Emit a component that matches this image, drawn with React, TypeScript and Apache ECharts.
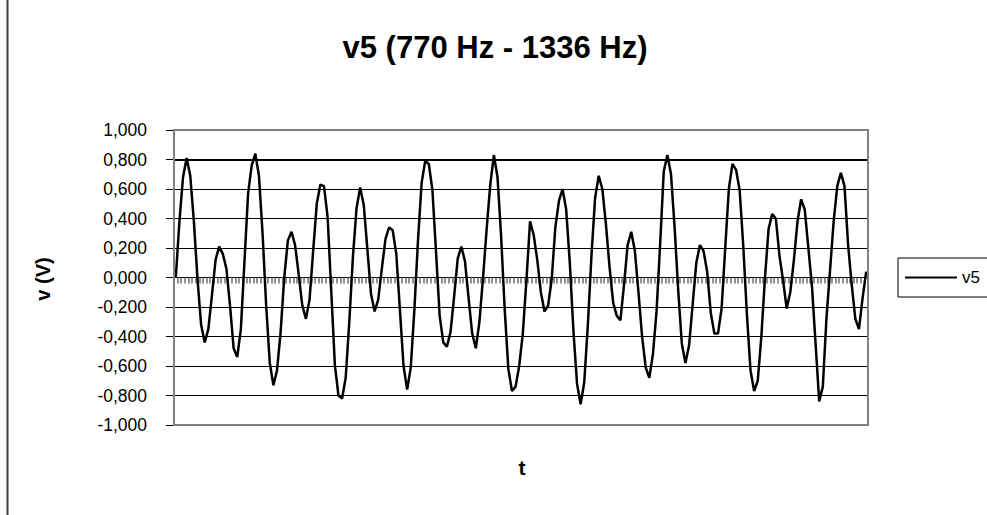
import React, { useEffect, useRef } from "react";
import * as echarts from "echarts";

const TITLE = "v5 (770 Hz - 1336 Hz)";
const X_NAME = "t";
const Y_NAME = "v (V)";
const SERIES_NAME = "v5";

const V5 = [
  0.0, 0.38, 0.68, 0.81, 0.69, 0.38, -0.01, -0.32, -0.44, -0.35,
  -0.12, 0.12, 0.21, 0.16, 0.06, -0.19, -0.48, -0.54, -0.35, 0.11,
  0.57, 0.76, 0.84, 0.69, 0.3, -0.19, -0.58, -0.73, -0.63, -0.37,
  0.0, 0.25, 0.31, 0.22, 0.02, -0.19, -0.28, -0.15, 0.18, 0.5,
  0.63, 0.62, 0.41, -0.09, -0.59, -0.8, -0.82, -0.68, -0.3, 0.14,
  0.47, 0.61, 0.49, 0.19, -0.11, -0.23, -0.15, 0.06, 0.26, 0.34,
  0.32, 0.16, -0.22, -0.6, -0.76, -0.61, -0.22, 0.25, 0.64, 0.79,
  0.77, 0.59, 0.17, -0.26, -0.44, -0.47, -0.37, -0.13, 0.13, 0.21,
  0.11, -0.14, -0.38, -0.48, -0.3, 0.0, 0.33, 0.63, 0.83, 0.68,
  0.28, -0.22, -0.62, -0.77, -0.74, -0.6, -0.38, -0.02, 0.38, 0.29,
  0.12, -0.1, -0.23, -0.19, -0.01, 0.34, 0.52, 0.6, 0.46, 0.1,
  -0.36, -0.72, -0.86, -0.71, -0.32, 0.15, 0.54, 0.69, 0.6, 0.36,
  0.07, -0.17, -0.26, -0.29, -0.05, 0.22, 0.31, 0.18, -0.1, -0.4,
  -0.61, -0.68, -0.52, -0.23, 0.23, 0.72, 0.83, 0.7, 0.34, -0.09,
  -0.45, -0.58, -0.46, -0.18, 0.1, 0.22, 0.18, 0.04, -0.24, -0.38,
  -0.38, -0.21, 0.2, 0.6, 0.77, 0.73, 0.59, 0.21, -0.25, -0.63,
  -0.77, -0.7, -0.4, 0.0, 0.33, 0.43, 0.4, 0.15, -0.02, -0.21,
  -0.1, 0.12, 0.38, 0.53, 0.46, 0.2, -0.06, -0.45, -0.84, -0.74,
  -0.28, 0.05, 0.38, 0.62, 0.71, 0.62, 0.22, -0.05, -0.28, -0.35,
  -0.14, 0.04,
];

const CATEGORIES = V5.map((_, i) => String(i + 1));

const Y_MIN = -1;
const Y_MAX = 1;
const Y_STEP = 0.2;
const Y_TICK_LABELS = [
  "-1,000", "-0,800", "-0,600", "-0,400", "-0,200", "0,000",
  "0,200", "0,400", "0,600", "0,800", "1,000",
];
const HIGHLIGHT_GRID_VALUE = 0.8;

const FONT = '"Liberation Sans", Arial, sans-serif';

export default function App() {
  const ref = useRef<HTMLDivElement>(null);

  useEffect(() => {
    if (!ref.current) return;
    const chart = echarts.init(ref.current, undefined, { renderer: "svg" });

    const option: any = {
      animation: false,
      backgroundColor: "#ffffff",
      textStyle: { fontFamily: FONT },
      grid: { left: 174, top: 130, width: 694, height: 295, containLabel: false },
      xAxis: {
        type: "category",
        data: CATEGORIES,
        boundaryGap: true,
        axisLine: { onZero: true, lineStyle: { color: "#000000", width: 1 } },
        axisTick: {
          show: true,
          interval: 0,
          length: 6,
          inside: false,
          lineStyle: { color: "#6e6e6e", width: 1.5 },
        },
        axisLabel: { show: false },
        splitLine: { show: false },
      },
      yAxis: {
        type: "value",
        min: Y_MIN,
        max: Y_MAX,
        interval: Y_STEP,
        axisLine: { show: false },
        axisTick: { show: true, length: 8, lineStyle: { color: "#000000", width: 1 } },
        axisLabel: {
          margin: 27,
          fontSize: 17.5,
          color: "#000000",
          fontFamily: FONT,
          formatter: (v: number) => Y_TICK_LABELS[Math.round((v - Y_MIN) / Y_STEP)] ?? "",
        },
        splitLine: { show: true, lineStyle: { color: "#000000", width: 1 } },
      },
      legend: {
        show: true,
        data: [SERIES_NAME],
        left: 898,
        top: 258,
        orient: "horizontal",
        backgroundColor: "#ffffff",
        borderColor: "#000000",
        borderWidth: 1,
        borderRadius: 0,
        padding: [11, 40, 11, 7],
        itemWidth: 52,
        itemHeight: 2,
        icon: "rect",
        selectedMode: false,
        textStyle: { fontSize: 17, color: "#000000", fontFamily: FONT },
      },
      series: [
        {
          type: "line",
          name: SERIES_NAME,
          data: V5,
          symbol: "none",
          showSymbol: false,
          lineStyle: { color: "#000000", width: 2.5 },
          itemStyle: { color: "#000000" },
          z: 5,
          markLine: {
            silent: true,
            symbol: "none",
            label: { show: false },
            lineStyle: { color: "#000000", width: 2, type: "solid" },
            data: [{ yAxis: HIGHLIGHT_GRID_VALUE }],
          },
        },
      ],
      graphic: [
        {
          type: "line",
          shape: { x1: 7.5, y1: 0, x2: 7.5, y2: 515 },
          style: { stroke: "#404040", lineWidth: 2 },
        },
        {
          type: "rect",
          z: 100,
          shape: { x: 174, y: 130, width: 694, height: 295 },
          style: { fill: "none", stroke: "#808080", lineWidth: 2 },
        },
        {
          type: "text",
          x: 495,
          y: 47,
          style: {
            text: TITLE,
            fontSize: 31,
            fontWeight: "bold",
            fontFamily: FONT,
            fill: "#000000",
            align: "center",
            verticalAlign: "middle",
          },
        },
        {
          type: "text",
          x: 43,
          y: 279,
          rotation: Math.PI / 2,
          style: {
            text: Y_NAME,
            fontSize: 20,
            fontWeight: "bold",
            fontFamily: FONT,
            fill: "#000000",
            align: "center",
            verticalAlign: "middle",
          },
        },
        {
          type: "text",
          x: 522,
          y: 467,
          style: {
            text: X_NAME,
            fontSize: 21,
            fontWeight: "bold",
            fontFamily: FONT,
            fill: "#000000",
            align: "center",
            verticalAlign: "middle",
          },
        },
      ],
    };

    chart.setOption(option);
    return () => {
      chart.dispose();
    };
  }, []);

  return (
    <div
      ref={ref}
      style={{
        position: "absolute",
        left: 0,
        top: 0,
        width: 987,
        height: 515,
        background: "#ffffff",
      }}
    />
  );
}
